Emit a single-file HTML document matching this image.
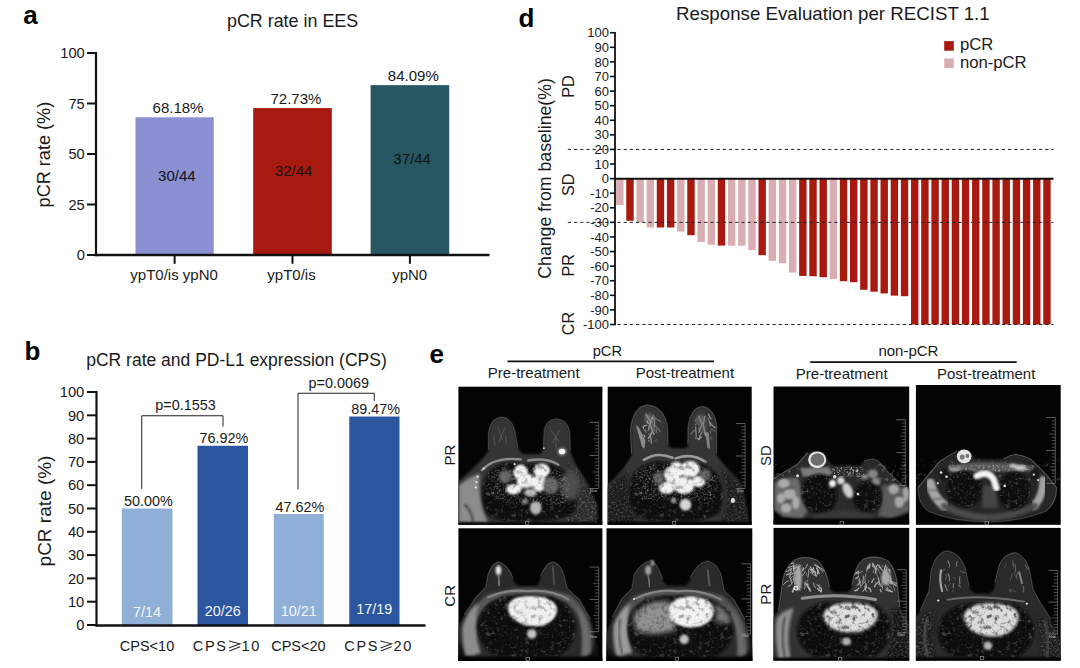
<!DOCTYPE html>
<html><head><meta charset="utf-8"><title>Figure</title>
<style>
html,body{margin:0;padding:0;background:#fff;}
body{width:1080px;height:668px;overflow:hidden;font-family:"Liberation Sans",sans-serif;}
svg{display:block;}
svg text{font-family:"Liberation Sans",sans-serif;}
</style></head><body>
<svg width="1080" height="668" viewBox="0 0 1080 668">
<rect width="1080" height="668" fill="#ffffff"/>

<defs>
<filter id="b2" x="-20%" y="-20%" width="140%" height="140%"><feGaussianBlur stdDeviation="2"/></filter>
<filter id="b4" x="-20%" y="-20%" width="140%" height="140%"><feGaussianBlur stdDeviation="4"/></filter>
<filter id="b7" x="-30%" y="-30%" width="160%" height="160%"><feGaussianBlur stdDeviation="7"/></filter>
<filter id="b12" x="-40%" y="-40%" width="180%" height="180%"><feGaussianBlur stdDeviation="12"/></filter>
<filter id="b20" x="-50%" y="-50%" width="200%" height="200%"><feGaussianBlur stdDeviation="20"/></filter>
<filter id="spk" x="0" y="0" width="100%" height="100%">
  <feTurbulence type="fractalNoise" baseFrequency="0.09" numOctaves="2" seed="3" result="n"/>
  <feColorMatrix in="n" type="matrix" values="0 0 0 0 1  0 0 0 0 1  0 0 0 0 1  2.2 2.2 0 0 -2.45" result="m"/>
  <feComposite in="m" in2="SourceGraphic" operator="in" result="c"/>
  <feGaussianBlur in="c" stdDeviation="2.6"/>
</filter>
<filter id="spk2" x="0" y="0" width="100%" height="100%">
  <feTurbulence type="fractalNoise" baseFrequency="0.05" numOctaves="3" seed="11" result="n"/>
  <feColorMatrix in="n" type="matrix" values="0 0 0 0 1  0 0 0 0 1  0 0 0 0 1  2.6 2.6 0 0 -2.85" result="m"/>
  <feComposite in="m" in2="SourceGraphic" operator="in" result="c"/>
  <feGaussianBlur in="c" stdDeviation="2.6"/>
</filter>
<filter id="spk3" x="0" y="0" width="100%" height="100%">
  <feTurbulence type="fractalNoise" baseFrequency="0.11" numOctaves="2" seed="5" result="n"/>
  <feColorMatrix in="n" type="matrix" values="0 0 0 0 1  0 0 0 0 1  0 0 0 0 1  2.4 2.4 0 0 -2.35" result="m"/>
  <feComposite in="m" in2="SourceGraphic" operator="in" result="c"/>
  <feGaussianBlur in="c" stdDeviation="2.4"/>
</filter>
<filter id="dark" x="0" y="0" width="100%" height="100%">
  <feTurbulence type="fractalNoise" baseFrequency="0.045" numOctaves="3" seed="7" result="n"/>
  <feColorMatrix in="n" type="matrix" values="0 0 0 0 0  0 0 0 0 0  0 0 0 0 0  2.6 2.6 0 0 -2.55" result="m"/>
  <feComposite in="m" in2="SourceGraphic" operator="in" result="c"/>
  <feGaussianBlur in="c" stdDeviation="3"/>
</filter>
</defs>

<g id="panel-a">
<text x="23.3" y="24" font-size="26" text-anchor="start" fill="#000" font-weight="bold" >a</text>
<text x="292.6" y="27.3" font-size="17.9" text-anchor="middle" fill="#1a1a1a" >pCR rate in EES</text>
<rect x="135.50" y="117.28" width="78.25" height="137.72" fill="#8b90d2" />
<text x="178.025" y="113.2764" font-size="15" text-anchor="middle" fill="#1a1a1a" >68.18%</text>
<text x="176.825" y="181.3" font-size="15" text-anchor="middle" fill="#111" >30/44</text>
<line x1="174.625" y1="255" x2="174.625" y2="263.8" stroke="#111" stroke-width="2" />
<rect x="253.20" y="108.09" width="78.60" height="146.91" fill="#a8190f" />
<text x="295.9" y="104.08539999999999" font-size="15" text-anchor="middle" fill="#1a1a1a" >72.73%</text>
<text x="293.7" y="175.70000000000002" font-size="15" text-anchor="middle" fill="#111" >32/44</text>
<line x1="292.5" y1="255" x2="292.5" y2="263.8" stroke="#111" stroke-width="2" />
<rect x="370.60" y="85.14" width="78.60" height="169.86" fill="#265763" />
<text x="413.29999999999995" y="81.13819999999998" font-size="15" text-anchor="middle" fill="#1a1a1a" >84.09%</text>
<text x="412.09999999999997" y="164.3" font-size="15" text-anchor="middle" fill="#111" >37/44</text>
<line x1="409.9" y1="255" x2="409.9" y2="263.8" stroke="#111" stroke-width="2" />
<line x1="96" y1="52" x2="96" y2="256.2" stroke="#111" stroke-width="2.2" />
<line x1="94.9" y1="255" x2="489.5" y2="255" stroke="#111" stroke-width="2.4" />
<line x1="87" y1="255.0" x2="96" y2="255.0" stroke="#111" stroke-width="2" />
<text x="84.8" y="260.2" font-size="14.7" text-anchor="end" fill="#1a1a1a" >0</text>
<line x1="87" y1="204.5" x2="96" y2="204.5" stroke="#111" stroke-width="2" />
<text x="84.8" y="209.7" font-size="14.7" text-anchor="end" fill="#1a1a1a" >25</text>
<line x1="87" y1="154.0" x2="96" y2="154.0" stroke="#111" stroke-width="2" />
<text x="84.8" y="159.2" font-size="14.7" text-anchor="end" fill="#1a1a1a" >50</text>
<line x1="87" y1="103.5" x2="96" y2="103.5" stroke="#111" stroke-width="2" />
<text x="84.8" y="108.7" font-size="14.7" text-anchor="end" fill="#1a1a1a" >75</text>
<line x1="87" y1="53.0" x2="96" y2="53.0" stroke="#111" stroke-width="2" />
<text x="84.8" y="58.2" font-size="14.7" text-anchor="end" fill="#1a1a1a" >100</text>
<text x="174.1" y="280" font-size="15" text-anchor="middle" fill="#1a1a1a" >ypT0/is ypN0</text>
<text x="291.5" y="280" font-size="15" text-anchor="middle" fill="#1a1a1a" >ypT0/is</text>
<text x="409.7" y="280" font-size="15" text-anchor="middle" fill="#1a1a1a" >ypN0</text>
<text x="49.7" y="154.6" font-size="18.1" text-anchor="middle" fill="#1a1a1a" transform="rotate(-90 49.7 154.6)" >pCR rate (%)</text>
</g>
<g id="panel-b">
<text x="24.5" y="360" font-size="26" text-anchor="start" fill="#000" font-weight="bold" >b</text>
<text x="236.5" y="365.7" font-size="17.5" text-anchor="middle" fill="#1a1a1a" >pCR rate and PD-L1 expression (CPS)</text>
<rect x="121.75" y="508.50" width="50.75" height="116.50" fill="#8fafd6" />
<text x="148.325" y="506.2" font-size="14.4" text-anchor="middle" fill="#1a1a1a" >50.00%</text>
<text x="147.125" y="616.7" font-size="14.4" text-anchor="middle" fill="#f4f6fb" >7/14</text>
<rect x="197.50" y="445.78" width="50.50" height="179.22" fill="#2c57a0" />
<text x="223.95" y="443.47639999999996" font-size="14.4" text-anchor="middle" fill="#1a1a1a" >76.92%</text>
<text x="222.75" y="615.7" font-size="14.4" text-anchor="middle" fill="#f4f6fb" >20/26</text>
<rect x="273.75" y="514.05" width="50.00" height="110.95" fill="#8fafd6" />
<text x="299.95" y="511.74539999999996" font-size="14.4" text-anchor="middle" fill="#1a1a1a" >47.62%</text>
<text x="298.75" y="615.7" font-size="14.4" text-anchor="middle" fill="#f4f6fb" >10/21</text>
<rect x="349.25" y="416.53" width="50.25" height="208.47" fill="#2c57a0" />
<text x="375.575" y="414.2349" font-size="14.4" text-anchor="middle" fill="#1a1a1a" >89.47%</text>
<text x="374.375" y="614.2" font-size="14.4" text-anchor="middle" fill="#f4f6fb" >17/19</text>
<line x1="96.5" y1="391" x2="96.5" y2="626.4" stroke="#111" stroke-width="2.2" />
<line x1="95.4" y1="625.4" x2="425.5" y2="625.4" stroke="#111" stroke-width="2.5" />
<line x1="87.0" y1="625.0" x2="96.5" y2="625.0" stroke="#111" stroke-width="2" />
<text x="84.3" y="630.2" font-size="14.7" text-anchor="end" fill="#1a1a1a" >0</text>
<line x1="87.0" y1="601.7" x2="96.5" y2="601.7" stroke="#111" stroke-width="2" />
<text x="84.3" y="606.9000000000001" font-size="14.7" text-anchor="end" fill="#1a1a1a" >10</text>
<line x1="87.0" y1="578.4" x2="96.5" y2="578.4" stroke="#111" stroke-width="2" />
<text x="84.3" y="583.6" font-size="14.7" text-anchor="end" fill="#1a1a1a" >20</text>
<line x1="87.0" y1="555.1" x2="96.5" y2="555.1" stroke="#111" stroke-width="2" />
<text x="84.3" y="560.3000000000001" font-size="14.7" text-anchor="end" fill="#1a1a1a" >30</text>
<line x1="87.0" y1="531.8" x2="96.5" y2="531.8" stroke="#111" stroke-width="2" />
<text x="84.3" y="537.0" font-size="14.7" text-anchor="end" fill="#1a1a1a" >40</text>
<line x1="87.0" y1="508.5" x2="96.5" y2="508.5" stroke="#111" stroke-width="2" />
<text x="84.3" y="513.7" font-size="14.7" text-anchor="end" fill="#1a1a1a" >50</text>
<line x1="87.0" y1="485.2" x2="96.5" y2="485.2" stroke="#111" stroke-width="2" />
<text x="84.3" y="490.4" font-size="14.7" text-anchor="end" fill="#1a1a1a" >60</text>
<line x1="87.0" y1="461.9" x2="96.5" y2="461.9" stroke="#111" stroke-width="2" />
<text x="84.3" y="467.09999999999997" font-size="14.7" text-anchor="end" fill="#1a1a1a" >70</text>
<line x1="87.0" y1="438.6" x2="96.5" y2="438.6" stroke="#111" stroke-width="2" />
<text x="84.3" y="443.8" font-size="14.7" text-anchor="end" fill="#1a1a1a" >80</text>
<line x1="87.0" y1="415.29999999999995" x2="96.5" y2="415.29999999999995" stroke="#111" stroke-width="2" />
<text x="84.3" y="420.49999999999994" font-size="14.7" text-anchor="end" fill="#1a1a1a" >90</text>
<line x1="87.0" y1="392.0" x2="96.5" y2="392.0" stroke="#111" stroke-width="2" />
<text x="84.3" y="397.2" font-size="14.7" text-anchor="end" fill="#1a1a1a" >100</text>
<text x="147" y="650.9" font-size="14.5" text-anchor="middle" fill="#1a1a1a" >CPS&lt;10</text>
<text x="192.8" y="650.9" font-size="14.5" text-anchor="start" fill="#1a1a1a" letter-spacing="1.7">CPS</text>
<path d="M228.9 640.9 L240.1 643.8 L228.9 648.0 M240.1 646.8 L229.2 651.0" fill="none" stroke="#2a2a2a" stroke-width="1.05" stroke-linejoin="miter"/>
<text x="241.4" y="650.9" font-size="14.5" text-anchor="start" fill="#1a1a1a" letter-spacing="1.7">10</text>
<text x="344.3" y="650.9" font-size="14.5" text-anchor="start" fill="#1a1a1a" letter-spacing="1.7">CPS</text>
<path d="M380.4 640.9 L391.6 643.8 L380.4 648.0 M391.6 646.8 L380.7 651.0" fill="none" stroke="#2a2a2a" stroke-width="1.05" stroke-linejoin="miter"/>
<text x="393.5" y="650.9" font-size="14.5" text-anchor="start" fill="#1a1a1a" letter-spacing="1.7">20</text>
<text x="298.4" y="650.9" font-size="14.5" text-anchor="middle" fill="#1a1a1a" >CPS&lt;20</text>
<path d="M141.75 489 V415.75 H223 V426.5" fill="none" stroke="#222" stroke-width="1"/>
<text x="185.5" y="410" font-size="14.4" text-anchor="middle" fill="#1a1a1a" >p=0.1553</text>
<path d="M298 489.5 V393.25 H374.25 V401" fill="none" stroke="#222" stroke-width="1"/>
<text x="338.75" y="388" font-size="14.4" text-anchor="middle" fill="#1a1a1a" >p=0.0069</text>
<text x="50.8" y="511" font-size="19" text-anchor="middle" fill="#1a1a1a" transform="rotate(-90 50.8 511)" >pCR rate (%)</text>
</g>
<g id="panel-d">
<text x="518.5" y="27" font-size="26" text-anchor="start" fill="#000" font-weight="bold" >d</text>
<text x="832.9" y="20" font-size="18.72" text-anchor="middle" fill="#1a1a1a" >Response Evaluation per RECIST 1.1</text>
<rect x="616.10" y="178.62" width="7.40" height="26.40" fill="#d9aeb2" />
<rect x="626.27" y="178.62" width="7.40" height="42.16" fill="#a8190f" />
<rect x="636.44" y="178.62" width="7.40" height="43.76" fill="#d9aeb2" />
<rect x="646.61" y="178.62" width="7.40" height="48.87" fill="#d9aeb2" />
<rect x="656.78" y="178.62" width="7.40" height="48.87" fill="#a8190f" />
<rect x="666.95" y="178.62" width="7.40" height="48.87" fill="#a8190f" />
<rect x="677.12" y="178.62" width="7.40" height="52.95" fill="#d9aeb2" />
<rect x="687.29" y="178.62" width="7.40" height="56.60" fill="#a8190f" />
<rect x="697.46" y="178.62" width="7.40" height="63.46" fill="#d9aeb2" />
<rect x="707.63" y="178.62" width="7.40" height="66.08" fill="#d9aeb2" />
<rect x="717.80" y="178.62" width="7.40" height="66.96" fill="#a8190f" />
<rect x="727.97" y="178.62" width="7.40" height="67.10" fill="#d9aeb2" />
<rect x="738.14" y="178.62" width="7.40" height="67.10" fill="#d9aeb2" />
<rect x="748.31" y="178.62" width="7.40" height="71.48" fill="#d9aeb2" />
<rect x="758.48" y="178.62" width="7.40" height="76.58" fill="#a8190f" />
<rect x="768.65" y="178.62" width="7.40" height="82.13" fill="#d9aeb2" />
<rect x="778.82" y="178.62" width="7.40" height="84.61" fill="#d9aeb2" />
<rect x="788.99" y="178.62" width="7.40" height="93.94" fill="#d9aeb2" />
<rect x="799.16" y="178.62" width="7.40" height="97.30" fill="#a8190f" />
<rect x="809.33" y="178.62" width="7.40" height="97.59" fill="#a8190f" />
<rect x="819.50" y="178.62" width="7.40" height="98.61" fill="#a8190f" />
<rect x="829.67" y="178.62" width="7.40" height="100.36" fill="#d9aeb2" />
<rect x="839.84" y="178.62" width="7.40" height="102.55" fill="#a8190f" />
<rect x="850.01" y="178.62" width="7.40" height="103.57" fill="#a8190f" />
<rect x="860.18" y="178.62" width="7.40" height="111.16" fill="#a8190f" />
<rect x="870.35" y="178.62" width="7.40" height="113.05" fill="#a8190f" />
<rect x="880.52" y="178.62" width="7.40" height="114.80" fill="#a8190f" />
<rect x="890.69" y="178.62" width="7.40" height="116.99" fill="#a8190f" />
<rect x="900.86" y="178.62" width="7.40" height="117.58" fill="#a8190f" />
<rect x="911.03" y="178.62" width="7.40" height="145.88" fill="#a8190f" />
<rect x="921.20" y="178.62" width="7.40" height="145.88" fill="#a8190f" />
<rect x="931.37" y="178.62" width="7.40" height="145.88" fill="#a8190f" />
<rect x="941.54" y="178.62" width="7.40" height="145.88" fill="#a8190f" />
<rect x="951.71" y="178.62" width="7.40" height="145.88" fill="#a8190f" />
<rect x="961.88" y="178.62" width="7.40" height="145.88" fill="#a8190f" />
<rect x="972.05" y="178.62" width="7.40" height="145.88" fill="#a8190f" />
<rect x="982.22" y="178.62" width="7.40" height="145.88" fill="#a8190f" />
<rect x="992.39" y="178.62" width="7.40" height="145.88" fill="#a8190f" />
<rect x="1002.56" y="178.62" width="7.40" height="145.88" fill="#a8190f" />
<rect x="1012.73" y="178.62" width="7.40" height="145.88" fill="#a8190f" />
<rect x="1022.90" y="178.62" width="7.40" height="145.88" fill="#a8190f" />
<rect x="1033.07" y="178.62" width="7.40" height="145.88" fill="#a8190f" />
<rect x="1043.24" y="178.62" width="7.40" height="145.88" fill="#a8190f" />
<line x1="567.8" y1="149.45" x2="1053.5" y2="149.45" stroke="#222" stroke-width="1" stroke-dasharray="3.2 3"/>
<line x1="567.8" y1="222.3875" x2="1053.5" y2="222.3875" stroke="#222" stroke-width="1" stroke-dasharray="3.2 3"/>
<line x1="617.5" y1="324.5" x2="1053.5" y2="324.5" stroke="#222" stroke-width="1" stroke-dasharray="3.2 3"/>
<line x1="615" y1="31.95" x2="615" y2="325.3" stroke="#111" stroke-width="1.8" />
<line x1="614.1" y1="178.625" x2="1053.5" y2="178.625" stroke="#111" stroke-width="2" />
<line x1="610" y1="324.5" x2="615" y2="324.5" stroke="#111" stroke-width="1.6" />
<text x="609" y="329.1" font-size="13" text-anchor="end" fill="#1a1a1a" >-100</text>
<line x1="610" y1="309.9125" x2="615" y2="309.9125" stroke="#111" stroke-width="1.6" />
<text x="609" y="314.51250000000005" font-size="13" text-anchor="end" fill="#1a1a1a" >-90</text>
<line x1="610" y1="295.325" x2="615" y2="295.325" stroke="#111" stroke-width="1.6" />
<text x="609" y="299.925" font-size="13" text-anchor="end" fill="#1a1a1a" >-80</text>
<line x1="610" y1="280.7375" x2="615" y2="280.7375" stroke="#111" stroke-width="1.6" />
<text x="609" y="285.33750000000003" font-size="13" text-anchor="end" fill="#1a1a1a" >-70</text>
<line x1="610" y1="266.15" x2="615" y2="266.15" stroke="#111" stroke-width="1.6" />
<text x="609" y="270.75" font-size="13" text-anchor="end" fill="#1a1a1a" >-60</text>
<line x1="610" y1="251.5625" x2="615" y2="251.5625" stroke="#111" stroke-width="1.6" />
<text x="609" y="256.1625" font-size="13" text-anchor="end" fill="#1a1a1a" >-50</text>
<line x1="610" y1="236.975" x2="615" y2="236.975" stroke="#111" stroke-width="1.6" />
<text x="609" y="241.575" font-size="13" text-anchor="end" fill="#1a1a1a" >-40</text>
<line x1="610" y1="222.3875" x2="615" y2="222.3875" stroke="#111" stroke-width="1.6" />
<text x="609" y="226.98749999999998" font-size="13" text-anchor="end" fill="#1a1a1a" >-30</text>
<line x1="610" y1="207.8" x2="615" y2="207.8" stroke="#111" stroke-width="1.6" />
<text x="609" y="212.4" font-size="13" text-anchor="end" fill="#1a1a1a" >-20</text>
<line x1="610" y1="193.2125" x2="615" y2="193.2125" stroke="#111" stroke-width="1.6" />
<text x="609" y="197.8125" font-size="13" text-anchor="end" fill="#1a1a1a" >-10</text>
<line x1="610" y1="178.625" x2="615" y2="178.625" stroke="#111" stroke-width="1.6" />
<text x="609" y="183.225" font-size="13" text-anchor="end" fill="#1a1a1a" >0</text>
<line x1="610" y1="164.0375" x2="615" y2="164.0375" stroke="#111" stroke-width="1.6" />
<text x="609" y="168.6375" font-size="13" text-anchor="end" fill="#1a1a1a" >10</text>
<line x1="610" y1="149.45" x2="615" y2="149.45" stroke="#111" stroke-width="1.6" />
<text x="609" y="154.04999999999998" font-size="13" text-anchor="end" fill="#1a1a1a" >20</text>
<line x1="610" y1="134.8625" x2="615" y2="134.8625" stroke="#111" stroke-width="1.6" />
<text x="609" y="139.4625" font-size="13" text-anchor="end" fill="#1a1a1a" >30</text>
<line x1="610" y1="120.275" x2="615" y2="120.275" stroke="#111" stroke-width="1.6" />
<text x="609" y="124.875" font-size="13" text-anchor="end" fill="#1a1a1a" >40</text>
<line x1="610" y1="105.6875" x2="615" y2="105.6875" stroke="#111" stroke-width="1.6" />
<text x="609" y="110.2875" font-size="13" text-anchor="end" fill="#1a1a1a" >50</text>
<line x1="610" y1="91.1" x2="615" y2="91.1" stroke="#111" stroke-width="1.6" />
<text x="609" y="95.69999999999999" font-size="13" text-anchor="end" fill="#1a1a1a" >60</text>
<line x1="610" y1="76.5125" x2="615" y2="76.5125" stroke="#111" stroke-width="1.6" />
<text x="609" y="81.1125" font-size="13" text-anchor="end" fill="#1a1a1a" >70</text>
<line x1="610" y1="61.925" x2="615" y2="61.925" stroke="#111" stroke-width="1.6" />
<text x="609" y="66.52499999999999" font-size="13" text-anchor="end" fill="#1a1a1a" >80</text>
<line x1="610" y1="47.337500000000006" x2="615" y2="47.337500000000006" stroke="#111" stroke-width="1.6" />
<text x="609" y="51.93750000000001" font-size="13" text-anchor="end" fill="#1a1a1a" >90</text>
<line x1="610" y1="32.75" x2="615" y2="32.75" stroke="#111" stroke-width="1.6" />
<text x="609" y="37.35" font-size="13" text-anchor="end" fill="#1a1a1a" >100</text>
<rect x="944.20" y="41.10" width="9.60" height="9.60" fill="#a8190f" />
<text x="959.9" y="49.6" font-size="16.7" text-anchor="start" fill="#1a1a1a" >pCR</text>
<rect x="944.20" y="58.40" width="9.60" height="9.60" fill="#d9aeb2" />
<text x="959.9" y="67.6" font-size="16.7" text-anchor="start" fill="#1a1a1a" >non-pCR</text>
<text x="574" y="86.5" font-size="16.2" text-anchor="middle" fill="#1a1a1a" transform="rotate(-90 574 86.5)" >PD</text>
<text x="574" y="184.8" font-size="16.2" text-anchor="middle" fill="#1a1a1a" transform="rotate(-90 574 184.8)" >SD</text>
<text x="574" y="265.3" font-size="16.2" text-anchor="middle" fill="#1a1a1a" transform="rotate(-90 574 265.3)" >PR</text>
<text x="574" y="323.5" font-size="16.2" text-anchor="middle" fill="#1a1a1a" transform="rotate(-90 574 323.5)" >CR</text>
<text x="550.8" y="178.4" font-size="17.7" text-anchor="middle" fill="#1a1a1a" transform="rotate(-90 550.8 178.4)" >Change from baseline(%)</text>
</g>
<g id="panel-e">
<text x="429.6" y="363.4" font-size="26" text-anchor="start" fill="#000" font-weight="bold" >e</text>
<text x="607.4" y="355.7" font-size="14.7" text-anchor="middle" fill="#1a1a1a" >pCR</text>
<line x1="507.5" y1="361.3" x2="714" y2="361.3" stroke="#111" stroke-width="1.8" />
<text x="533.7" y="378.4" font-size="15" text-anchor="middle" fill="#1a1a1a" >Pre-treatment</text>
<text x="684.9" y="378.4" font-size="15" text-anchor="middle" fill="#1a1a1a" >Post-treatment</text>
<text x="908.4" y="356" font-size="15" text-anchor="middle" fill="#1a1a1a" >non-pCR</text>
<line x1="810.2" y1="362.1" x2="1016.7" y2="362.1" stroke="#111" stroke-width="1.8" />
<text x="841.7" y="379.2" font-size="15" text-anchor="middle" fill="#1a1a1a" >Pre-treatment</text>
<text x="986.2" y="379.2" font-size="15" text-anchor="middle" fill="#1a1a1a" >Post-treatment</text>
<text x="455.4" y="455" font-size="15" text-anchor="middle" fill="#1a1a1a" transform="rotate(-90 455.4 455)" >PR</text>
<text x="455.4" y="595.8" font-size="15" text-anchor="middle" fill="#1a1a1a" transform="rotate(-90 455.4 595.8)" >CR</text>
<text x="770.6" y="455.6" font-size="15" text-anchor="middle" fill="#1a1a1a" transform="rotate(-90 770.6 455.6)" >SD</text>
<text x="770.6" y="594.2" font-size="15" text-anchor="middle" fill="#1a1a1a" transform="rotate(-90 770.6 594.2)" >PR</text>
<g id="mri1"><clipPath id="clip1"><rect x="458.40" y="386.70" width="144.00" height="138.00"/></clipPath><rect x="458.40" y="386.70" width="144.00" height="138.00" fill="#040404"/><g clip-path="url(#clip1)"><g transform="translate(456,384) scale(0.215517)"><path filter="url(#b4)" fill="#363636" d="M0 462 L70 400 L120 350 L150 312 L152 230 Q160 160 212 155 Q265 160 275 235 L286 292 Q296 324 325 326 L385 326 Q404 322 407 290 L410 215 Q420 165 466 162 Q520 168 527 230 L529 305 Q540 355 590 430 Q640 520 655 660 L0 660 Z" /><path filter="url(#b2)" fill="none" stroke="#4a4a4a" stroke-width="5" stroke-linecap="round" d="M152 305 L152 230 Q160 160 212 155 Q265 160 275 235 L286 292"/><path filter="url(#b2)" fill="none" stroke="#4a4a4a" stroke-width="5" stroke-linecap="round" d="M407 290 L410 215 Q420 165 466 162 Q520 168 527 230 L529 305"/><path filter="url(#b7)" fill="#2a2a2a" d="M520 360 L560 390 L610 460 L655 560 L655 660 L500 660 L540 520 Z" /><path filter="url(#spk3)" fill="#6a6a6a" opacity="0.248" d="M520 360 L560 390 L610 460 L655 560 L655 660 L500 660 L540 520 Z" /><path filter="url(#b7)" fill="#8c8c8c" d="M14 470 Q60 430 112 415 Q100 500 130 600 L150 645 L14 645 Z" /><path filter="url(#b4)" fill="none" stroke="#3a3a3a" stroke-width="8" stroke-linecap="round" d="M40 560 Q70 580 80 640"/><path filter="url(#b2)" fill="none" stroke="#8d8d8d" stroke-width="11" stroke-linecap="round" d="M120 400 Q180 335 300 350"/><path filter="url(#b2)" fill="none" stroke="#8d8d8d" stroke-width="11" stroke-linecap="round" d="M335 355 Q420 340 475 375"/><path filter="url(#b4)" fill="#0b0b0b" d="M125 470 Q140 380 240 365 Q330 372 350 372 Q460 362 530 420 Q585 500 545 600 Q480 640 330 636 Q190 640 150 610 Q110 560 125 470 Z" /><path filter="url(#spk)" fill="#fff" opacity="0.15" d="M125 470 Q140 380 240 365 Q330 372 350 372 Q460 362 530 420 Q585 500 545 600 Q480 640 330 636 Q190 640 150 610 Q110 560 125 470 Z" /><path filter="url(#spk2)" fill="#8a8a8a" opacity="0.2" d="M125 470 Q140 380 240 365 Q330 372 350 372 Q460 362 530 420 Q585 500 545 600 Q480 640 330 636 Q190 640 150 610 Q110 560 125 470 Z" /><ellipse filter="url(#b12)" cx="530" cy="470" rx="45" ry="70" fill="#4e4e4e"/><path filter="url(#spk3)" fill="#8a8a8a" opacity="0.3" d="M150 420 Q200 370 330 380 Q470 370 520 440 Q540 520 500 560 Q400 560 330 560 Q200 560 170 520 Q140 480 150 420 Z" /><g filter="url(#b4)" fill="#f2f2f2"><ellipse cx="300" cy="412" rx="34" ry="38"/><ellipse cx="398" cy="402" rx="38" ry="33"/><ellipse cx="268" cy="488" rx="36" ry="24"/><ellipse cx="330" cy="452" rx="48" ry="34"/><ellipse cx="385" cy="462" rx="36" ry="38"/></g><ellipse filter="url(#b4)" cx="345" cy="505" rx="30" ry="18" fill="#bbb"/><g filter="url(#b7)" fill="#6a6a6a"><ellipse cx="440" cy="470" rx="36" ry="40"/><ellipse cx="230" cy="430" rx="30" ry="30"/></g><path filter="url(#dark)" fill="#000" opacity="0.3" d="M230 370 H450 V530 H230 Z" /><ellipse filter="url(#b4)" cx="370" cy="575" rx="27" ry="30" fill="#b5b5b5"/><ellipse filter="url(#b4)" cx="318" cy="545" rx="12" ry="12" fill="#8a8a8a"/><ellipse filter="url(#b4)" cx="492" cy="313" rx="22" ry="20" fill="#7a7a7a"/><ellipse filter="url(#b2)" cx="492" cy="313" rx="15" ry="13" fill="#f4f4f4"/><g filter="url(#b2)" stroke="#5c5c5c" stroke-width="4" fill="none"><path d="M195 200 L215 260 M225 205 L200 270 M175 240 L180 285 M230 240 L232 280"/><path d="M440 215 L480 270 M480 215 L445 275 M462 240 L465 300"/></g><g fill="#e8e8e8" filter="url(#b2)"><circle cx="100" cy="430" r="5"/><circle cx="95" cy="455" r="5"/><circle cx="92" cy="480" r="5"/><circle cx="128" cy="392" r="5"/><circle cx="272" cy="372" r="5"/><circle cx="408" cy="298" r="4"/></g><rect filter="url(#b4)" x="-20" y="642" width="740" height="60" fill="#040404"/><g stroke="#8a8a8a" stroke-width="2.6" fill="none" filter="url(#b2)"><line x1="662" y1="178" x2="662" y2="485"/><line x1="620" y1="178.0" x2="662" y2="178.0" stroke-width="3.2"/><line x1="645" y1="193.3" x2="662" y2="193.3" stroke-width="2.4"/><line x1="645" y1="208.7" x2="662" y2="208.7" stroke-width="2.4"/><line x1="645" y1="224.1" x2="662" y2="224.1" stroke-width="2.4"/><line x1="645" y1="239.4" x2="662" y2="239.4" stroke-width="2.4"/><line x1="636" y1="254.8" x2="662" y2="254.8" stroke-width="2.4"/><line x1="645" y1="270.1" x2="662" y2="270.1" stroke-width="2.4"/><line x1="645" y1="285.4" x2="662" y2="285.4" stroke-width="2.4"/><line x1="645" y1="300.8" x2="662" y2="300.8" stroke-width="2.4"/><line x1="645" y1="316.1" x2="662" y2="316.1" stroke-width="2.4"/><line x1="620" y1="331.5" x2="662" y2="331.5" stroke-width="3.2"/><line x1="645" y1="346.9" x2="662" y2="346.9" stroke-width="2.4"/><line x1="645" y1="362.2" x2="662" y2="362.2" stroke-width="2.4"/><line x1="645" y1="377.6" x2="662" y2="377.6" stroke-width="2.4"/><line x1="645" y1="392.9" x2="662" y2="392.9" stroke-width="2.4"/><line x1="636" y1="408.2" x2="662" y2="408.2" stroke-width="2.4"/><line x1="645" y1="423.6" x2="662" y2="423.6" stroke-width="2.4"/><line x1="645" y1="438.9" x2="662" y2="438.9" stroke-width="2.4"/><line x1="645" y1="454.3" x2="662" y2="454.3" stroke-width="2.4"/><line x1="645" y1="469.6" x2="662" y2="469.6" stroke-width="2.4"/><line x1="620" y1="485.0" x2="662" y2="485.0" stroke-width="3.2"/></g><text x="622" y="500" font-size="13" fill="#a8a8a8" font-weight="bold" filter="url(#b2)">10cm</text><rect x="322" y="638" width="16" height="14" fill="none" stroke="#999" stroke-width="3" filter="url(#b2)"/></g></g></g>
<g id="mri2"><clipPath id="clip2"><rect x="607.70" y="386.70" width="144.00" height="138.00"/></clipPath><rect x="607.70" y="386.70" width="144.00" height="138.00" fill="#040404"/><g clip-path="url(#clip2)"><g transform="translate(604,384) scale(0.215517)"><path filter="url(#b4)" fill="#363636" d="M0 480 L40 445 L95 385 L130 330 L124 215 Q132 110 200 98 Q275 105 293 195 L296 278 Q300 297 325 298 L375 298 Q390 296 390 275 L391 195 Q405 112 456 105 Q515 115 522 200 L521 330 L565 385 L625 445 Q660 520 670 660 L0 660 Z" /><path filter="url(#b2)" fill="none" stroke="#4c4c4c" stroke-width="5" stroke-linecap="round" d="M128 320 L124 215 Q132 110 200 98 Q275 105 293 195 L296 278"/><path filter="url(#b2)" fill="none" stroke="#4c4c4c" stroke-width="5" stroke-linecap="round" d="M390 275 L391 195 Q405 112 456 105 Q515 115 522 200 L521 320"/><path filter="url(#b7)" fill="#1c1c1c" d="M10 490 L60 440 L115 400 Q95 520 160 645 L10 645 Z" /><path filter="url(#spk3)" fill="#6a6a6a" opacity="0.203" d="M10 490 L60 440 L115 400 Q95 520 160 645 L10 645 Z" /><path filter="url(#b7)" fill="#1c1c1c" d="M535 385 L590 430 L640 470 L670 645 L540 645 Q600 520 535 385 Z" /><path filter="url(#spk3)" fill="#6a6a6a" opacity="0.203" d="M535 385 L590 430 L640 470 L670 645 L540 645 Q600 520 535 385 Z" /><path filter="url(#b2)" fill="none" stroke="#9a9a9a" stroke-width="12" stroke-linecap="round" d="M185 352 Q245 312 318 342"/><path filter="url(#b2)" fill="none" stroke="#9a9a9a" stroke-width="12" stroke-linecap="round" d="M332 345 Q410 318 472 362"/><path filter="url(#b4)" fill="#0b0b0b" d="M120 460 Q140 372 250 358 Q330 366 350 366 Q450 352 520 410 Q575 500 535 600 Q470 640 335 636 Q190 640 150 610 Q105 550 120 460 Z" /><path filter="url(#spk)" fill="#fff" opacity="0.15" d="M120 460 Q140 372 250 358 Q330 366 350 366 Q450 352 520 410 Q575 500 535 600 Q470 640 335 636 Q190 640 150 610 Q105 550 120 460 Z" /><path filter="url(#spk2)" fill="#8a8a8a" opacity="0.2" d="M120 460 Q140 372 250 358 Q330 366 350 366 Q450 352 520 410 Q575 500 535 600 Q470 640 335 636 Q190 640 150 610 Q105 550 120 460 Z" /><path filter="url(#spk3)" fill="#8a8a8a" opacity="0.35" d="M150 400 Q250 360 350 370 Q470 360 520 430 Q540 500 500 540 L180 540 Q130 480 150 400 Z" /><g filter="url(#b4)" fill="#f2f2f2"><ellipse cx="400" cy="395" rx="46" ry="38"/><ellipse cx="322" cy="420" rx="46" ry="40"/><ellipse cx="292" cy="482" rx="38" ry="28"/><ellipse cx="372" cy="470" rx="48" ry="40"/><ellipse cx="440" cy="452" rx="30" ry="26"/><ellipse cx="335" cy="375" rx="25" ry="14"/></g><g filter="url(#b7)" fill="#6a6a6a"><ellipse cx="255" cy="440" rx="25" ry="30"/><ellipse cx="470" cy="420" rx="25" ry="25"/></g><path filter="url(#dark)" fill="#000" opacity="0.3" d="M240 360 H480 V525 H240 Z" /><ellipse filter="url(#b4)" cx="378" cy="560" rx="27" ry="28" fill="#d5d5d5"/><ellipse filter="url(#b4)" cx="322" cy="540" rx="12" ry="12" fill="#999"/><ellipse filter="url(#b2)" cx="598" cy="540" rx="10" ry="12" fill="#ddd"/><g filter="url(#b7)" fill="#5e5e5e"><ellipse cx="207" cy="158" rx="20" ry="24"/><ellipse cx="228" cy="205" rx="12" ry="28"/></g><clipPath id="sil2"><path d="M0 480 L40 445 L95 385 L130 330 L124 215 Q132 110 200 98 Q275 105 293 195 L296 278 Q300 297 325 298 L375 298 Q390 296 390 275 L391 195 Q405 112 456 105 Q515 115 522 200 L521 330 L565 385 L625 445 Q660 520 670 660 L0 660 Z"/></clipPath><g clip-path="url(#sil2)"><g filter="url(#b2)" stroke="#b4b4b4" stroke-linecap="round" fill="none" opacity="0.85"><path d="M223 156 Q219 172 223 179" stroke-width="5.2"/><path d="M208 200 Q208 206 213 209" stroke-width="2.3"/><path d="M184 236 Q193 245 187 246" stroke-width="5.5"/><path d="M166 213 Q159 232 165 237" stroke-width="3.5"/><path d="M233 154 Q247 166 263 175" stroke-width="3.4"/><path d="M180 196 Q184 216 196 226" stroke-width="2.8"/><path d="M244 258 Q242 266 237 266" stroke-width="2.5"/><path d="M237 195 Q256 207 262 222" stroke-width="3.5"/><path d="M198 192 Q182 192 182 205" stroke-width="4.9"/><path d="M208 261 Q212 259 208 266" stroke-width="4.4"/><path d="M219 205 Q221 218 227 218" stroke-width="3.4"/><path d="M191 211 Q198 220 196 221" stroke-width="3.5"/><path d="M224 222 Q213 245 205 253" stroke-width="5.8"/><path d="M243 210 Q241 226 248 229" stroke-width="2.6"/><path d="M231 144 Q235 148 229 167" stroke-width="3.0"/><path d="M201 172 Q201 183 206 182" stroke-width="5.9"/><path d="M206 229 Q213 250 220 264" stroke-width="2.1"/><path d="M236 162 Q236 178 232 196" stroke-width="4.3"/></g><g filter="url(#b2)" stroke="#a8a8a8" stroke-linecap="round" fill="none" opacity="0.85"><path d="M423 250 Q428 248 443 258" stroke-width="4.6"/><path d="M490 178 Q500 192 516 203" stroke-width="5.7"/><path d="M493 218 Q499 225 493 229" stroke-width="3.2"/><path d="M484 160 Q493 185 493 195" stroke-width="4.3"/><path d="M465 219 Q470 240 482 252" stroke-width="5.8"/><path d="M423 214 Q408 217 403 234" stroke-width="4.1"/><path d="M485 141 Q489 154 497 162" stroke-width="5.7"/><path d="M444 173 Q443 183 439 191" stroke-width="3.7"/><path d="M458 216 Q467 230 481 246" stroke-width="3.6"/><path d="M496 246 Q492 258 501 258" stroke-width="2.7"/><path d="M441 201 Q438 204 444 221" stroke-width="4.1"/><path d="M468 231 Q469 241 484 255" stroke-width="5.3"/><path d="M451 245 Q445 253 438 258" stroke-width="6.0"/><path d="M453 224 Q445 242 442 250" stroke-width="5.3"/><path d="M495 209 Q508 212 516 220" stroke-width="2.7"/><path d="M449 218 Q458 221 453 229" stroke-width="2.5"/><path d="M434 163 Q425 161 423 172" stroke-width="3.9"/><path d="M442 162 Q438 170 423 192" stroke-width="3.5"/></g></g><path filter="url(#b2)" fill="none" stroke="#8e8e8e" stroke-width="6" stroke-linecap="round" d="M195 140 L215 175 L205 215 M225 150 L215 190 L232 235 M215 230 L220 275"/><path filter="url(#b2)" fill="#8c8c8c" d="M148 190 L160 200 L192 262 L188 300 L176 290 Z" /><g filter="url(#b7)" fill="#5a5a5a"><ellipse cx="450" cy="165" rx="24" ry="24"/><ellipse cx="462" cy="205" rx="12" ry="24"/></g><path filter="url(#b2)" fill="none" stroke="#848484" stroke-width="6" stroke-linecap="round" d="M440 150 L455 185 L440 225 M468 150 L460 190 L470 230 M425 200 L428 245"/><path filter="url(#b2)" fill="#848484" d="M470 222 L486 226 L492 300 L480 296 Z" /><rect filter="url(#b4)" x="-20" y="639" width="740" height="60" fill="#040404"/><g stroke="#8a8a8a" stroke-width="2.6" fill="none" filter="url(#b2)"><line x1="655" y1="183" x2="655" y2="485"/><line x1="613" y1="183.0" x2="655" y2="183.0" stroke-width="3.2"/><line x1="638" y1="198.1" x2="655" y2="198.1" stroke-width="2.4"/><line x1="638" y1="213.2" x2="655" y2="213.2" stroke-width="2.4"/><line x1="638" y1="228.3" x2="655" y2="228.3" stroke-width="2.4"/><line x1="638" y1="243.4" x2="655" y2="243.4" stroke-width="2.4"/><line x1="629" y1="258.5" x2="655" y2="258.5" stroke-width="2.4"/><line x1="638" y1="273.6" x2="655" y2="273.6" stroke-width="2.4"/><line x1="638" y1="288.7" x2="655" y2="288.7" stroke-width="2.4"/><line x1="638" y1="303.8" x2="655" y2="303.8" stroke-width="2.4"/><line x1="638" y1="318.9" x2="655" y2="318.9" stroke-width="2.4"/><line x1="613" y1="334.0" x2="655" y2="334.0" stroke-width="3.2"/><line x1="638" y1="349.1" x2="655" y2="349.1" stroke-width="2.4"/><line x1="638" y1="364.2" x2="655" y2="364.2" stroke-width="2.4"/><line x1="638" y1="379.3" x2="655" y2="379.3" stroke-width="2.4"/><line x1="638" y1="394.4" x2="655" y2="394.4" stroke-width="2.4"/><line x1="629" y1="409.5" x2="655" y2="409.5" stroke-width="2.4"/><line x1="638" y1="424.6" x2="655" y2="424.6" stroke-width="2.4"/><line x1="638" y1="439.7" x2="655" y2="439.7" stroke-width="2.4"/><line x1="638" y1="454.8" x2="655" y2="454.8" stroke-width="2.4"/><line x1="638" y1="469.9" x2="655" y2="469.9" stroke-width="2.4"/><line x1="613" y1="485.0" x2="655" y2="485.0" stroke-width="3.2"/></g><text x="615" y="500" font-size="13" fill="#a8a8a8" font-weight="bold" filter="url(#b2)">10cm</text><rect x="317" y="638" width="16" height="14" fill="none" stroke="#999" stroke-width="3" filter="url(#b2)"/></g></g></g>
<g id="mri3"><clipPath id="clip3"><rect x="458.40" y="528.30" width="144.00" height="132.70"/></clipPath><rect x="458.40" y="528.30" width="144.00" height="132.70" fill="#040404"/><g clip-path="url(#clip3)"><g transform="translate(456,524) scale(0.215517)"><path filter="url(#b4)" fill="#2c2c2c" d="M0 500 L40 420 L90 345 L140 292 L150 232 Q170 180 200 177 Q245 195 262 250 Q272 284 295 288 L370 288 Q388 280 395 238 Q418 180 452 177 Q492 190 502 245 L516 300 L572 352 L622 440 Q650 520 660 660 L0 660 Z" /><path filter="url(#b2)" fill="none" stroke="#474747" stroke-width="5" stroke-linecap="round" d="M40 420 L90 345 L140 292 L150 232 Q170 180 200 177 Q245 195 262 250"/><path filter="url(#b2)" fill="none" stroke="#474747" stroke-width="5" stroke-linecap="round" d="M395 238 Q418 180 452 177 Q492 190 502 245 L516 300 L572 352 L622 440"/><path filter="url(#b7)" fill="none" stroke="#585858" stroke-width="36" stroke-linecap="round" d="M70 600 Q30 450 150 345 Q330 290 520 345 Q640 450 600 600"/><path filter="url(#b7)" fill="#0c0c0c" d="M0 520 Q20 600 90 625 L0 660 Z" /><path filter="url(#b7)" fill="#0c0c0c" d="M660 540 Q640 600 590 625 L660 660 Z" /><path filter="url(#b7)" fill="#8c8c8c" d="M30 480 Q50 400 105 365 Q75 480 115 600 L45 615 Q25 540 30 480 Z" /><path filter="url(#b7)" fill="#6c6c6c" d="M565 385 Q625 450 625 600 L585 615 Q590 480 565 385 Z" /><path filter="url(#b2)" fill="none" stroke="#858585" stroke-width="10" stroke-linecap="round" d="M150 340 Q240 300 330 312 Q440 300 520 350"/><path filter="url(#b4)" fill="#0b0b0b" d="M100 470 Q115 370 220 335 Q330 318 440 335 Q540 370 555 470 Q560 560 480 610 Q330 625 180 610 Q100 560 100 470 Z" /><path filter="url(#spk)" fill="#fff" opacity="0.15" d="M100 470 Q115 370 220 335 Q330 318 440 335 Q540 370 555 470 Q560 560 480 610 Q330 625 180 610 Q100 560 100 470 Z" /><path filter="url(#spk2)" fill="#8a8a8a" opacity="0.2" d="M100 470 Q115 370 220 335 Q330 318 440 335 Q540 370 555 470 Q560 560 480 610 Q330 625 180 610 Q100 560 100 470 Z" /><path filter="url(#b4)" fill="#f0f0f0" d="M240 385 Q250 335 330 335 Q440 330 468 385 Q475 440 410 470 Q330 485 280 450 Q240 425 240 385 Z" /><path filter="url(#dark)" fill="#000" opacity="0.25" d="M240 335 H470 V480 H240 Z" /><ellipse filter="url(#b4)" cx="352" cy="510" rx="22" ry="22" fill="#c4c4c4"/><path filter="url(#b2)" fill="none" stroke="#ddd" stroke-width="7" stroke-linecap="round" d="M300 568 H370"/><path filter="url(#b2)" fill="none" stroke="#555" stroke-width="4" stroke-linecap="round" d="M130 490 H300"/><ellipse filter="url(#b4)" cx="197" cy="215" rx="13" ry="24" fill="#e6e6e6"/><path filter="url(#b2)" fill="none" stroke="#7a7a7a" stroke-width="8" stroke-linecap="round" d="M197 235 L200 285"/><path filter="url(#b2)" fill="none" stroke="#505050" stroke-width="8" stroke-linecap="round" d="M450 200 L455 280"/><rect filter="url(#b4)" x="-20" y="616" width="740" height="60" fill="#040404"/><g stroke="#8a8a8a" stroke-width="2.6" fill="none" filter="url(#b2)"><line x1="662" y1="200" x2="662" y2="500"/><line x1="620" y1="200.0" x2="662" y2="200.0" stroke-width="3.2"/><line x1="645" y1="215.0" x2="662" y2="215.0" stroke-width="2.4"/><line x1="645" y1="230.0" x2="662" y2="230.0" stroke-width="2.4"/><line x1="645" y1="245.0" x2="662" y2="245.0" stroke-width="2.4"/><line x1="645" y1="260.0" x2="662" y2="260.0" stroke-width="2.4"/><line x1="636" y1="275.0" x2="662" y2="275.0" stroke-width="2.4"/><line x1="645" y1="290.0" x2="662" y2="290.0" stroke-width="2.4"/><line x1="645" y1="305.0" x2="662" y2="305.0" stroke-width="2.4"/><line x1="645" y1="320.0" x2="662" y2="320.0" stroke-width="2.4"/><line x1="645" y1="335.0" x2="662" y2="335.0" stroke-width="2.4"/><line x1="620" y1="350.0" x2="662" y2="350.0" stroke-width="3.2"/><line x1="645" y1="365.0" x2="662" y2="365.0" stroke-width="2.4"/><line x1="645" y1="380.0" x2="662" y2="380.0" stroke-width="2.4"/><line x1="645" y1="395.0" x2="662" y2="395.0" stroke-width="2.4"/><line x1="645" y1="410.0" x2="662" y2="410.0" stroke-width="2.4"/><line x1="636" y1="425.0" x2="662" y2="425.0" stroke-width="2.4"/><line x1="645" y1="440.0" x2="662" y2="440.0" stroke-width="2.4"/><line x1="645" y1="455.0" x2="662" y2="455.0" stroke-width="2.4"/><line x1="645" y1="470.0" x2="662" y2="470.0" stroke-width="2.4"/><line x1="645" y1="485.0" x2="662" y2="485.0" stroke-width="2.4"/><line x1="620" y1="500.0" x2="662" y2="500.0" stroke-width="3.2"/></g><text x="622" y="528" font-size="13" fill="#a8a8a8" font-weight="bold" filter="url(#b2)">10cm</text><rect x="325" y="620" width="16" height="14" fill="none" stroke="#999" stroke-width="3" filter="url(#b2)"/></g></g></g>
<g id="mri4"><clipPath id="clip4"><rect x="606.50" y="528.30" width="145.80" height="132.70"/></clipPath><rect x="606.50" y="528.30" width="145.80" height="132.70" fill="#040404"/><g clip-path="url(#clip4)"><g transform="translate(604,524) scale(0.215517)"><path filter="url(#b4)" fill="#2c2c2c" d="M0 540 L40 430 L82 350 L130 300 L142 232 Q170 182 222 168 Q252 195 270 255 Q280 284 305 286 L375 286 Q395 280 402 248 Q430 185 482 172 Q535 190 547 255 L557 310 L602 352 L652 440 Q685 520 690 660 L0 660 Z" /><path filter="url(#b2)" fill="none" stroke="#474747" stroke-width="5" stroke-linecap="round" d="M40 430 L82 350 L130 300 L142 232 Q170 182 222 168 Q252 195 270 255"/><path filter="url(#b2)" fill="none" stroke="#474747" stroke-width="5" stroke-linecap="round" d="M402 248 Q430 185 482 172 Q535 190 547 255 L557 310 L602 352 L652 440"/><path filter="url(#b7)" fill="none" stroke="#545454" stroke-width="36" stroke-linecap="round" d="M75 610 Q30 460 150 350 Q340 295 545 350 Q670 460 640 610"/><path filter="url(#b7)" fill="#0c0c0c" d="M0 540 Q20 600 80 628 L0 660 Z" /><path filter="url(#b7)" fill="#0c0c0c" d="M700 560 Q670 610 620 628 L700 660 Z" /><path filter="url(#b7)" fill="#9a9a9a" d="M45 470 Q70 400 120 370 Q95 480 130 600 L60 610 Q40 540 45 470 Z" /><path filter="url(#b4)" fill="none" stroke="#333" stroke-width="6" stroke-linecap="round" d="M75 440 Q60 520 85 600"/><path filter="url(#b7)" fill="#6a6a6a" d="M590 400 Q640 450 660 600 L620 610 Q620 480 590 400 Z" /><path filter="url(#b2)" fill="none" stroke="#858585" stroke-width="10" stroke-linecap="round" d="M150 345 Q240 300 340 312 Q450 300 540 350"/><path filter="url(#b4)" fill="#0b0b0b" d="M110 480 Q120 380 220 340 Q340 320 470 340 Q585 380 600 480 Q600 570 520 612 Q340 630 190 612 Q105 570 110 480 Z" /><path filter="url(#spk)" fill="#fff" opacity="0.15" d="M110 480 Q120 380 220 340 Q340 320 470 340 Q585 380 600 480 Q600 570 520 612 Q340 630 190 612 Q105 570 110 480 Z" /><path filter="url(#spk2)" fill="#8a8a8a" opacity="0.2" d="M110 480 Q120 380 220 340 Q340 320 470 340 Q585 380 600 480 Q600 570 520 612 Q340 630 190 612 Q105 570 110 480 Z" /><path filter="url(#b12)" fill="#929292" d="M135 430 Q185 350 305 358 L335 490 Q240 525 150 495 Z" /><path filter="url(#b4)" fill="#f2f2f2" d="M300 395 Q310 340 400 335 Q500 340 512 400 Q510 450 450 475 Q380 490 330 460 Q298 440 300 395 Z" /><path filter="url(#b12)" fill="#777" d="M515 370 Q580 395 590 460 L520 460 Z" /><path filter="url(#dark)" fill="#000" opacity="0.3" d="M140 335 H590 V500 H140 Z" /><ellipse filter="url(#b4)" cx="372" cy="535" rx="22" ry="22" fill="#c0c0c0"/><path filter="url(#b2)" fill="none" stroke="#ccc" stroke-width="7" stroke-linecap="round" d="M310 580 H375"/><g filter="url(#b4)" fill="#a5a5a5"><ellipse cx="205" cy="215" rx="14" ry="22"/><ellipse cx="225" cy="182" rx="7" ry="14"/></g><path filter="url(#b2)" fill="none" stroke="#6e6e6e" stroke-width="8" stroke-linecap="round" d="M205 235 L212 290"/><path filter="url(#b2)" fill="none" stroke="#565656" stroke-width="10" stroke-linecap="round" d="M480 215 L490 285"/><ellipse filter="url(#b2)" cx="140" cy="348" rx="5" ry="5" fill="#eee"/><rect filter="url(#b4)" x="-20" y="617" width="740" height="60" fill="#040404"/><g stroke="#8a8a8a" stroke-width="2.6" fill="none" filter="url(#b2)"><line x1="680" y1="185" x2="680" y2="510"/><line x1="638" y1="185.0" x2="680" y2="185.0" stroke-width="3.2"/><line x1="663" y1="201.2" x2="680" y2="201.2" stroke-width="2.4"/><line x1="663" y1="217.5" x2="680" y2="217.5" stroke-width="2.4"/><line x1="663" y1="233.8" x2="680" y2="233.8" stroke-width="2.4"/><line x1="663" y1="250.0" x2="680" y2="250.0" stroke-width="2.4"/><line x1="654" y1="266.2" x2="680" y2="266.2" stroke-width="2.4"/><line x1="663" y1="282.5" x2="680" y2="282.5" stroke-width="2.4"/><line x1="663" y1="298.8" x2="680" y2="298.8" stroke-width="2.4"/><line x1="663" y1="315.0" x2="680" y2="315.0" stroke-width="2.4"/><line x1="663" y1="331.2" x2="680" y2="331.2" stroke-width="2.4"/><line x1="638" y1="347.5" x2="680" y2="347.5" stroke-width="3.2"/><line x1="663" y1="363.8" x2="680" y2="363.8" stroke-width="2.4"/><line x1="663" y1="380.0" x2="680" y2="380.0" stroke-width="2.4"/><line x1="663" y1="396.2" x2="680" y2="396.2" stroke-width="2.4"/><line x1="663" y1="412.5" x2="680" y2="412.5" stroke-width="2.4"/><line x1="654" y1="428.8" x2="680" y2="428.8" stroke-width="2.4"/><line x1="663" y1="445.0" x2="680" y2="445.0" stroke-width="2.4"/><line x1="663" y1="461.2" x2="680" y2="461.2" stroke-width="2.4"/><line x1="663" y1="477.5" x2="680" y2="477.5" stroke-width="2.4"/><line x1="663" y1="493.8" x2="680" y2="493.8" stroke-width="2.4"/><line x1="638" y1="510.0" x2="680" y2="510.0" stroke-width="3.2"/></g><text x="640" y="525" font-size="13" fill="#a8a8a8" font-weight="bold" filter="url(#b2)">10cm</text><rect x="330" y="618" width="16" height="14" fill="none" stroke="#999" stroke-width="3" filter="url(#b2)"/></g></g></g>
<g id="mri5"><clipPath id="clip5"><rect x="773.50" y="386.50" width="135.70" height="138.00"/></clipPath><rect x="773.50" y="386.50" width="135.70" height="138.00" fill="#040404"/><g clip-path="url(#clip5)"><g transform="translate(770,382) scale(0.215517)"><path filter="url(#b4)" fill="#2b2b2b" d="M0 462 L23 445 L129 381 L174 329 Q213 312 255 335 L272 368 L290 387 L419 387 L438 368 Q470 352 500 366 L516 381 L554 426 L619 484 L650 500 L650 600 Q600 632 520 634 L120 634 Q40 625 0 580 Z" /><path filter="url(#b2)" fill="none" stroke="#5a5a5a" stroke-width="5" stroke-linecap="round" d="M23 445 L129 381 L174 329"/><path filter="url(#b2)" fill="none" stroke="#4a4a4a" stroke-width="5" stroke-linecap="round" d="M438 368 Q470 352 500 366 L516 381 L554 426 L619 484"/><path filter="url(#spk2)" fill="#777" opacity="0.25" d="M16 380 H646 V460 H16 Z" /><path filter="url(#b7)" fill="#6a6a6a" d="M20 470 Q60 440 130 445 Q150 520 175 600 L150 632 L60 625 L20 590 Z" /><path filter="url(#b7)" fill="#5c5c5c" d="M520 480 Q580 470 646 500 L646 600 L560 632 L500 620 Q530 560 520 480 Z" /><g filter="url(#b4)" fill="#ababab"><ellipse cx="64" cy="471" rx="27" ry="22"/><ellipse cx="92" cy="518" rx="28" ry="26"/><ellipse cx="52" cy="540" rx="20" ry="24"/><ellipse cx="75" cy="585" rx="24" ry="22"/><ellipse cx="120" cy="560" rx="18" ry="30"/></g><g filter="url(#b4)" fill="#a6a6a6"><ellipse cx="574" cy="497" rx="24" ry="24"/><ellipse cx="600" cy="555" rx="22" ry="28"/><ellipse cx="630" cy="520" rx="14" ry="36"/></g><path filter="url(#b4)" fill="none" stroke="#3a3a3a" stroke-width="5" stroke-linecap="round" d="M70 495 L110 490 M60 560 L100 550 M585 525 L620 530"/><path filter="url(#b4)" fill="#7a7a7a" d="M142 400 L271 394 L290 420 L271 440 L150 438 Z" /><g filter="url(#b4)" fill="#858585"><ellipse cx="477" cy="426" rx="24" ry="20"/><ellipse cx="492" cy="462" rx="20" ry="18"/><ellipse cx="440" cy="440" rx="16" ry="12"/></g><path filter="url(#spk3)" fill="#7a7a7a" opacity="0.6" d="M290 395 L430 395 L440 440 L290 440 Z" /><path filter="url(#b4)" fill="#0b0b0b" d="M145 520 Q150 432 230 426 Q300 430 312 500 Q318 590 250 612 Q150 610 145 520 Z" /><path filter="url(#spk)" fill="#fff" opacity="0.24" d="M145 520 Q150 432 230 426 Q300 430 312 500 Q318 590 250 612 Q150 610 145 520 Z" /><path filter="url(#spk2)" fill="#8a8a8a" opacity="0.2" d="M145 520 Q150 432 230 426 Q300 430 312 500 Q318 590 250 612 Q150 610 145 520 Z" /><path filter="url(#b4)" fill="#0b0b0b" d="M385 540 Q390 468 450 464 Q515 470 518 540 Q515 600 450 608 Q390 602 385 540 Z" /><path filter="url(#spk)" fill="#fff" opacity="0.24" d="M385 540 Q390 468 450 464 Q515 470 518 540 Q515 600 450 608 Q390 602 385 540 Z" /><path filter="url(#spk2)" fill="#8a8a8a" opacity="0.2" d="M385 540 Q390 468 450 464 Q515 470 518 540 Q515 600 450 608 Q390 602 385 540 Z" /><path filter="url(#b7)" fill="#383838" d="M300 600 Q340 585 400 600 L480 615 L480 634 L200 634 L200 615 Z" /><ellipse filter="url(#b4)" cx="290" cy="471" rx="16" ry="17" fill="#f2f2f2"/><ellipse filter="url(#b4)" cx="329" cy="458" rx="17" ry="17" fill="#d8d8d8"/><ellipse filter="url(#b4)" cx="361" cy="503" rx="21" ry="38" fill="#cfcfcf" transform="rotate(-25 361 503)"/><g filter="url(#b2)" fill="#ddd"><ellipse cx="300" cy="440" rx="8" ry="8"/><ellipse cx="408" cy="520" rx="6" ry="6"/><ellipse cx="128" cy="435" rx="7" ry="7"/></g><path filter="url(#b2)" fill="none" stroke="#8a8a8a" stroke-width="5" stroke-linecap="round" d="M262 627 H400"/><ellipse filter="url(#b2)" cx="219" cy="361" rx="42" ry="39" fill="#e4e4e4"/><ellipse filter="url(#b2)" cx="220" cy="360" rx="32" ry="29" fill="#6c6c6c"/><rect filter="url(#b4)" x="-20" y="637" width="740" height="60" fill="#040404"/><g stroke="#8a8a8a" stroke-width="2.6" fill="none" filter="url(#b2)"><line x1="628" y1="175" x2="628" y2="480"/><line x1="586" y1="175.0" x2="628" y2="175.0" stroke-width="3.2"/><line x1="611" y1="190.2" x2="628" y2="190.2" stroke-width="2.4"/><line x1="611" y1="205.5" x2="628" y2="205.5" stroke-width="2.4"/><line x1="611" y1="220.8" x2="628" y2="220.8" stroke-width="2.4"/><line x1="611" y1="236.0" x2="628" y2="236.0" stroke-width="2.4"/><line x1="602" y1="251.2" x2="628" y2="251.2" stroke-width="2.4"/><line x1="611" y1="266.5" x2="628" y2="266.5" stroke-width="2.4"/><line x1="611" y1="281.8" x2="628" y2="281.8" stroke-width="2.4"/><line x1="611" y1="297.0" x2="628" y2="297.0" stroke-width="2.4"/><line x1="611" y1="312.2" x2="628" y2="312.2" stroke-width="2.4"/><line x1="586" y1="327.5" x2="628" y2="327.5" stroke-width="3.2"/><line x1="611" y1="342.8" x2="628" y2="342.8" stroke-width="2.4"/><line x1="611" y1="358.0" x2="628" y2="358.0" stroke-width="2.4"/><line x1="611" y1="373.2" x2="628" y2="373.2" stroke-width="2.4"/><line x1="611" y1="388.5" x2="628" y2="388.5" stroke-width="2.4"/><line x1="602" y1="403.8" x2="628" y2="403.8" stroke-width="2.4"/><line x1="611" y1="419.0" x2="628" y2="419.0" stroke-width="2.4"/><line x1="611" y1="434.2" x2="628" y2="434.2" stroke-width="2.4"/><line x1="611" y1="449.5" x2="628" y2="449.5" stroke-width="2.4"/><line x1="611" y1="464.8" x2="628" y2="464.8" stroke-width="2.4"/><line x1="586" y1="480.0" x2="628" y2="480.0" stroke-width="3.2"/></g><rect x="325" y="648" width="16" height="14" fill="none" stroke="#999" stroke-width="3" filter="url(#b2)"/></g></g></g>
<g id="mri6"><clipPath id="clip6"><rect x="915.90" y="385.00" width="144.80" height="139.80"/></clipPath><rect x="915.90" y="385.00" width="144.80" height="139.80" fill="#040404"/><g clip-path="url(#clip6)"><g transform="translate(912,382) scale(0.215517)"><path filter="url(#b4)" fill="#262626" d="M29 490 L129 368 L206 322 Q245 308 280 340 L290 356 L425 358 Q450 340 477 336 Q520 340 554 361 L619 426 L670 490 Q672 560 619 600 Q500 648 348 648 Q190 648 77 600 Q25 560 29 490 Z" /><path filter="url(#b2)" fill="none" stroke="#5a5a5a" stroke-width="5" stroke-linecap="round" d="M29 490 L129 368 L206 322"/><path filter="url(#b2)" fill="none" stroke="#555" stroke-width="5" stroke-linecap="round" d="M425 358 Q450 340 477 336 Q520 340 554 361 L619 426 L670 490 Q672 560 619 600"/><path filter="url(#b2)" fill="none" stroke="#444" stroke-width="5" stroke-linecap="round" d="M29 490 Q25 560 77 600 Q190 648 348 648 Q500 648 619 600"/><path filter="url(#spk2)" fill="#777" opacity="0.18" d="M18 360 H690 V460 H18 Z" /><path filter="url(#b4)" fill="#585858" d="M168 385 L290 372 L430 374 L567 392 L575 415 L168 415 Z" /><path filter="url(#spk3)" fill="#a0a0a0" opacity="0.35" d="M168 385 L567 385 L575 415 L168 415 Z" /><g filter="url(#b4)" fill="#c4c4c4"><ellipse cx="503" cy="398" rx="28" ry="13"/><ellipse cx="470" cy="388" rx="18" ry="9"/></g><g filter="url(#b4)" fill="#9a9a9a"><ellipse cx="200" cy="405" rx="30" ry="10"/></g><path filter="url(#b4)" fill="none" stroke="#a6a6a6" stroke-width="44" stroke-linecap="round" d="M85 470 Q95 530 150 575"/><path filter="url(#b4)" fill="none" stroke="#a2a2a2" stroke-width="36" stroke-linecap="round" d="M608 455 Q612 520 568 575"/><path filter="url(#b7)" fill="none" stroke="#4e4e4e" stroke-width="30" stroke-linecap="round" d="M150 575 Q240 625 340 628"/><path filter="url(#b7)" fill="none" stroke="#4a4a4a" stroke-width="30" stroke-linecap="round" d="M568 575 Q470 625 360 628"/><path filter="url(#b4)" fill="none" stroke="#555" stroke-width="5" stroke-linecap="round" d="M75 500 L120 505 M95 545 L140 540"/><ellipse filter="url(#b4)" cx="150" cy="428" rx="22" ry="30" fill="#161616"/><ellipse filter="url(#b4)" cx="570" cy="428" rx="20" ry="30" fill="#161616"/><g filter="url(#b2)" fill="#e0e0e0"><ellipse cx="135" cy="420" rx="6" ry="6"/><ellipse cx="160" cy="440" rx="6" ry="6"/><ellipse cx="120" cy="470" rx="5" ry="5"/><ellipse cx="565" cy="430" rx="5" ry="5"/><ellipse cx="585" cy="455" rx="5" ry="5"/></g><path filter="url(#b4)" fill="#0b0b0b" d="M161 500 Q165 418 245 412 Q318 418 329 490 Q330 570 250 582 Q165 575 161 500 Z" /><path filter="url(#spk)" fill="#fff" opacity="0.24" d="M161 500 Q165 418 245 412 Q318 418 329 490 Q330 570 250 582 Q165 575 161 500 Z" /><path filter="url(#spk2)" fill="#8a8a8a" opacity="0.2" d="M161 500 Q165 418 245 412 Q318 418 329 490 Q330 570 250 582 Q165 575 161 500 Z" /><path filter="url(#b4)" fill="#0b0b0b" d="M400 505 Q405 425 470 418 Q545 425 548 505 Q545 585 470 594 Q405 585 400 505 Z" /><path filter="url(#spk)" fill="#fff" opacity="0.24" d="M400 505 Q405 425 470 418 Q545 425 548 505 Q545 585 470 594 Q405 585 400 505 Z" /><path filter="url(#spk2)" fill="#8a8a8a" opacity="0.2" d="M400 505 Q405 425 470 418 Q545 425 548 505 Q545 585 470 594 Q405 585 400 505 Z" /><path filter="url(#b7)" fill="#454545" d="M329 480 L390 480 L395 585 L325 585 Z" /><path filter="url(#b4)" fill="none" stroke="#f4f4f4" stroke-width="30" stroke-linecap="round" d="M300 436 Q350 408 378 450 L392 492"/><ellipse filter="url(#b2)" cx="430" cy="482" rx="6" ry="6" fill="#ddd"/><ellipse filter="url(#b2)" cx="242" cy="345" rx="34" ry="32" fill="#e4e4e4"/><g filter="url(#b2)" fill="#777"><ellipse cx="233" cy="348" rx="11" ry="12"/><ellipse cx="257" cy="343" rx="9" ry="10"/></g><g stroke="#8a8a8a" stroke-width="2.6" fill="none" filter="url(#b2)"><line x1="665" y1="165" x2="665" y2="470"/><line x1="623" y1="165.0" x2="665" y2="165.0" stroke-width="3.2"/><line x1="648" y1="180.2" x2="665" y2="180.2" stroke-width="2.4"/><line x1="648" y1="195.5" x2="665" y2="195.5" stroke-width="2.4"/><line x1="648" y1="210.8" x2="665" y2="210.8" stroke-width="2.4"/><line x1="648" y1="226.0" x2="665" y2="226.0" stroke-width="2.4"/><line x1="639" y1="241.2" x2="665" y2="241.2" stroke-width="2.4"/><line x1="648" y1="256.5" x2="665" y2="256.5" stroke-width="2.4"/><line x1="648" y1="271.8" x2="665" y2="271.8" stroke-width="2.4"/><line x1="648" y1="287.0" x2="665" y2="287.0" stroke-width="2.4"/><line x1="648" y1="302.2" x2="665" y2="302.2" stroke-width="2.4"/><line x1="623" y1="317.5" x2="665" y2="317.5" stroke-width="3.2"/><line x1="648" y1="332.8" x2="665" y2="332.8" stroke-width="2.4"/><line x1="648" y1="348.0" x2="665" y2="348.0" stroke-width="2.4"/><line x1="648" y1="363.2" x2="665" y2="363.2" stroke-width="2.4"/><line x1="648" y1="378.5" x2="665" y2="378.5" stroke-width="2.4"/><line x1="639" y1="393.8" x2="665" y2="393.8" stroke-width="2.4"/><line x1="648" y1="409.0" x2="665" y2="409.0" stroke-width="2.4"/><line x1="648" y1="424.2" x2="665" y2="424.2" stroke-width="2.4"/><line x1="648" y1="439.5" x2="665" y2="439.5" stroke-width="2.4"/><line x1="648" y1="454.8" x2="665" y2="454.8" stroke-width="2.4"/><line x1="623" y1="470.0" x2="665" y2="470.0" stroke-width="3.2"/></g><rect x="339" y="648" width="16" height="14" fill="none" stroke="#999" stroke-width="3" filter="url(#b2)"/></g></g></g>
<g id="mri7"><clipPath id="clip7"><rect x="773.50" y="527.90" width="135.70" height="132.60"/></clipPath><rect x="773.50" y="527.90" width="135.70" height="132.60" fill="#040404"/><g clip-path="url(#clip7)"><g transform="translate(770,524) scale(0.215517)"><path filter="url(#b4)" fill="#323232" d="M0 450 L40 400 L55 300 Q62 200 120 165 Q170 145 222 170 Q262 215 275 290 Q282 316 305 318 L355 318 Q378 312 382 280 Q392 200 432 165 Q490 140 546 170 Q588 215 592 300 L602 385 L646 470 L650 660 L0 660 Z" /><path filter="url(#b2)" fill="none" stroke="#585858" stroke-width="5" stroke-linecap="round" d="M40 400 L55 300 Q62 200 120 165 Q170 145 222 170 Q262 215 275 290"/><path filter="url(#b2)" fill="none" stroke="#585858" stroke-width="5" stroke-linecap="round" d="M382 280 Q392 200 432 165 Q490 140 546 170 Q588 215 592 300 L602 385"/><path filter="url(#b7)" fill="#151515" d="M560 400 L600 390 L646 470 L650 650 L520 650 Q590 520 560 400 Z" /><path filter="url(#spk3)" fill="#6a6a6a" opacity="0.225" d="M560 400 L600 390 L646 470 L650 650 L520 650 Q590 520 560 400 Z" /><path filter="url(#b7)" fill="#8e8e8e" d="M30 440 Q60 400 110 390 Q70 500 95 620 L40 630 Q20 520 30 440 Z" /><path filter="url(#b4)" fill="none" stroke="#333" stroke-width="7" stroke-linecap="round" d="M70 430 Q45 520 70 620"/><path filter="url(#b2)" fill="none" stroke="#909090" stroke-width="14" stroke-linecap="round" d="M150 345 Q300 318 490 350"/><path filter="url(#b4)" fill="#0b0b0b" d="M125 480 Q135 400 230 368 Q340 352 470 370 Q555 400 560 480 Q560 570 490 612 Q340 630 200 612 Q120 570 125 480 Z" /><path filter="url(#spk)" fill="#fff" opacity="0.15" d="M125 480 Q135 400 230 368 Q340 352 470 370 Q555 400 560 480 Q560 570 490 612 Q340 630 200 612 Q120 570 125 480 Z" /><path filter="url(#spk2)" fill="#8a8a8a" opacity="0.2" d="M125 480 Q135 400 230 368 Q340 352 470 370 Q555 400 560 480 Q560 570 490 612 Q340 630 200 612 Q120 570 125 480 Z" /><path filter="url(#b7)" fill="#dedede" d="M248 420 Q262 368 360 365 Q480 362 500 410 Q505 465 430 498 Q340 515 280 480 Q245 455 248 420 Z" /><path filter="url(#dark)" fill="#000" opacity="0.55" d="M245 360 H505 V510 H245 Z" /><ellipse filter="url(#b4)" cx="355" cy="545" rx="20" ry="18" fill="#b0b0b0"/><path filter="url(#b2)" fill="none" stroke="#bbb" stroke-width="7" stroke-linecap="round" d="M270 597 H410"/><clipPath id="sil7"><path d="M0 450 L40 400 L55 300 Q62 200 120 165 Q170 145 222 170 Q262 215 275 290 Q282 316 305 318 L355 318 Q378 312 382 280 Q392 200 432 165 Q490 140 546 170 Q588 215 592 300 L602 385 L646 470 L650 660 L0 660 Z"/></clipPath><g clip-path="url(#sil7)"><g filter="url(#b2)" stroke="#d0d0d0" stroke-linecap="round" fill="none" opacity="0.8"><path d="M184 222 Q205 240 216 243" stroke-width="3.4"/><path d="M98 206 Q100 209 95 216" stroke-width="5.9"/><path d="M140 279 Q136 290 147 297" stroke-width="3.1"/><path d="M221 199 Q242 215 247 225" stroke-width="3.4"/><path d="M128 199 Q116 200 110 215" stroke-width="3.8"/><path d="M95 231 Q92 240 91 249" stroke-width="4.8"/><path d="M131 290 Q131 300 139 307" stroke-width="4.4"/><path d="M100 222 Q91 232 77 236" stroke-width="6.1"/><path d="M125 185 Q117 197 109 209" stroke-width="3.6"/><path d="M223 212 Q220 218 219 235" stroke-width="5.0"/><path d="M184 208 Q196 214 197 227" stroke-width="4.7"/><path d="M163 221 Q163 230 149 241" stroke-width="4.3"/><path d="M165 264 Q155 271 160 281" stroke-width="2.5"/><path d="M180 212 Q181 231 176 248" stroke-width="3.8"/><path d="M130 242 Q136 251 138 266" stroke-width="5.6"/><path d="M134 249 Q126 250 126 256" stroke-width="5.3"/><path d="M240 213 Q251 219 262 217" stroke-width="3.4"/><path d="M201 201 Q207 213 201 227" stroke-width="4.3"/><path d="M104 245 Q92 254 94 251" stroke-width="4.3"/><path d="M221 199 Q224 198 242 208" stroke-width="4.4"/><path d="M104 271 Q97 288 84 290" stroke-width="4.4"/><path d="M111 181 Q101 184 98 183" stroke-width="5.6"/><path d="M175 278 Q173 290 187 311" stroke-width="6.7"/><path d="M216 205 Q224 216 228 230" stroke-width="6.0"/><path d="M137 188 Q127 201 113 207" stroke-width="3.6"/><path d="M176 258 Q170 263 170 273" stroke-width="3.2"/><path d="M164 274 Q175 293 186 302" stroke-width="5.6"/><path d="M136 232 Q134 256 123 266" stroke-width="4.8"/><path d="M132 251 Q132 268 124 275" stroke-width="6.3"/><path d="M188 213 Q197 210 203 223" stroke-width="6.1"/><path d="M122 250 Q112 272 116 280" stroke-width="5.2"/><path d="M115 249 Q103 261 105 262" stroke-width="3.8"/><path d="M162 280 Q166 295 160 301" stroke-width="4.0"/><path d="M128 252 Q120 260 110 266" stroke-width="2.7"/><path d="M210 223 Q207 237 215 239" stroke-width="5.9"/><path d="M112 295 Q107 302 104 314" stroke-width="5.1"/><path d="M95 254 Q102 267 98 269" stroke-width="5.3"/><path d="M170 228 Q176 242 168 242" stroke-width="2.4"/><path d="M130 213 Q122 222 101 233" stroke-width="4.7"/><path d="M94 206 Q90 220 73 220" stroke-width="4.7"/><path d="M174 187 Q171 198 162 208" stroke-width="4.3"/><path d="M121 235 Q120 243 111 266" stroke-width="3.2"/><path d="M110 190 Q106 207 111 220" stroke-width="6.0"/><path d="M128 200 Q137 213 130 214" stroke-width="6.6"/><path d="M154 204 Q155 216 151 216" stroke-width="6.4"/><path d="M133 292 Q127 291 123 304" stroke-width="2.7"/><path d="M145 191 Q132 197 129 210" stroke-width="3.9"/><path d="M117 195 Q105 192 86 202" stroke-width="4.5"/><path d="M218 282 Q227 284 232 297" stroke-width="5.0"/><path d="M208 190 Q220 197 225 200" stroke-width="6.7"/><path d="M126 266 Q135 276 136 296" stroke-width="5.9"/><path d="M113 229 Q119 241 115 251" stroke-width="3.6"/><path d="M86 263 Q74 265 63 281" stroke-width="4.1"/><path d="M236 297 Q243 302 235 314" stroke-width="6.2"/><path d="M220 299 Q222 302 239 314" stroke-width="6.0"/><path d="M186 199 Q206 220 212 225" stroke-width="4.9"/><path d="M108 309 Q107 320 103 314" stroke-width="5.5"/><path d="M231 283 Q233 290 227 309" stroke-width="3.4"/><path d="M202 274 Q204 289 211 295" stroke-width="4.3"/><path d="M121 223 Q110 232 108 255" stroke-width="3.9"/></g><g filter="url(#b2)" stroke="#c8c8c8" stroke-linecap="round" fill="none" opacity="0.8"><path d="M500 188 Q495 194 489 205" stroke-width="5.6"/><path d="M503 268 Q492 278 485 292" stroke-width="5.1"/><path d="M441 269 Q438 270 425 285" stroke-width="3.7"/><path d="M477 181 Q474 196 481 200" stroke-width="5.1"/><path d="M487 224 Q502 241 504 256" stroke-width="2.9"/><path d="M441 303 Q443 314 450 314" stroke-width="2.9"/><path d="M479 187 Q487 204 495 210" stroke-width="6.5"/><path d="M531 209 Q533 225 549 241" stroke-width="6.7"/><path d="M461 186 Q468 191 459 206" stroke-width="6.0"/><path d="M546 214 Q559 208 557 219" stroke-width="5.1"/><path d="M499 205 Q508 222 511 230" stroke-width="2.8"/><path d="M444 287 Q442 301 431 314" stroke-width="4.5"/><path d="M542 199 Q558 216 558 226" stroke-width="3.6"/><path d="M433 241 Q435 253 430 275" stroke-width="4.6"/><path d="M539 232 Q531 237 537 252" stroke-width="4.8"/><path d="M412 226 Q397 226 388 240" stroke-width="3.8"/><path d="M415 255 Q409 263 417 266" stroke-width="5.5"/><path d="M457 262 Q462 268 457 272" stroke-width="3.1"/><path d="M456 194 Q445 212 448 222" stroke-width="3.3"/><path d="M505 199 Q522 215 532 225" stroke-width="4.7"/><path d="M545 294 Q549 308 548 307" stroke-width="3.3"/><path d="M423 270 Q414 279 403 285" stroke-width="4.6"/><path d="M506 265 Q508 285 522 296" stroke-width="4.2"/><path d="M456 192 Q455 205 450 204" stroke-width="5.5"/><path d="M502 251 Q508 267 507 282" stroke-width="5.6"/><path d="M417 263 Q415 277 419 284" stroke-width="4.4"/><path d="M522 268 Q513 287 511 290" stroke-width="3.7"/><path d="M445 277 Q450 298 441 304" stroke-width="6.6"/><path d="M527 245 Q530 255 525 269" stroke-width="4.3"/><path d="M429 220 Q417 227 405 228" stroke-width="3.5"/><path d="M505 192 Q509 196 514 204" stroke-width="6.4"/><path d="M558 243 Q561 251 561 271" stroke-width="6.2"/><path d="M533 198 Q535 220 526 232" stroke-width="4.4"/><path d="M521 280 Q523 296 521 304" stroke-width="2.8"/><path d="M556 263 Q579 270 590 279" stroke-width="4.9"/><path d="M445 233 Q436 251 441 270" stroke-width="3.5"/><path d="M559 262 Q569 268 564 277" stroke-width="6.1"/><path d="M456 295 Q468 300 468 314" stroke-width="6.2"/><path d="M438 285 Q439 293 446 310" stroke-width="2.3"/><path d="M411 218 Q411 228 411 234" stroke-width="3.9"/><path d="M492 206 Q491 218 490 227" stroke-width="6.6"/><path d="M536 191 Q540 208 540 213" stroke-width="5.8"/><path d="M419 280 Q427 283 419 295" stroke-width="4.1"/><path d="M543 272 Q552 291 566 299" stroke-width="2.9"/><path d="M411 299 Q405 310 393 310" stroke-width="6.5"/><path d="M537 296 Q551 300 567 314" stroke-width="3.5"/><path d="M569 277 Q575 294 580 310" stroke-width="2.5"/><path d="M560 276 Q573 273 585 286" stroke-width="6.6"/><path d="M421 270 Q416 267 408 275" stroke-width="3.4"/><path d="M540 303 Q557 315 569 314" stroke-width="2.5"/><path d="M410 242 Q412 246 398 254" stroke-width="6.7"/><path d="M538 306 Q557 314 566 314" stroke-width="6.6"/><path d="M483 254 Q477 257 472 271" stroke-width="6.2"/><path d="M464 185 Q454 203 452 211" stroke-width="5.7"/><path d="M487 205 Q481 215 478 226" stroke-width="3.0"/><path d="M490 269 Q488 284 483 289" stroke-width="2.3"/><path d="M519 190 Q523 201 529 200" stroke-width="2.5"/><path d="M512 304 Q511 306 516 314" stroke-width="6.2"/><path d="M548 258 Q552 260 554 273" stroke-width="5.0"/><path d="M409 223 Q406 220 399 227" stroke-width="6.4"/></g></g><g filter="url(#b4)" fill="#a8a8a8"><ellipse cx="538" cy="250" rx="22" ry="36"/><ellipse cx="132" cy="250" rx="16" ry="60"/></g><ellipse filter="url(#b2)" cx="120" cy="298" rx="11" ry="11" fill="#eee"/><ellipse filter="url(#b2)" cx="120" cy="298" rx="5" ry="5" fill="#555"/><rect filter="url(#b4)" x="-20" y="621" width="740" height="60" fill="#040404"/><g stroke="#8a8a8a" stroke-width="2.6" fill="none" filter="url(#b2)"><line x1="632" y1="212" x2="632" y2="505"/><line x1="590" y1="212.0" x2="632" y2="212.0" stroke-width="3.2"/><line x1="615" y1="226.7" x2="632" y2="226.7" stroke-width="2.4"/><line x1="615" y1="241.3" x2="632" y2="241.3" stroke-width="2.4"/><line x1="615" y1="255.9" x2="632" y2="255.9" stroke-width="2.4"/><line x1="615" y1="270.6" x2="632" y2="270.6" stroke-width="2.4"/><line x1="606" y1="285.2" x2="632" y2="285.2" stroke-width="2.4"/><line x1="615" y1="299.9" x2="632" y2="299.9" stroke-width="2.4"/><line x1="615" y1="314.6" x2="632" y2="314.6" stroke-width="2.4"/><line x1="615" y1="329.2" x2="632" y2="329.2" stroke-width="2.4"/><line x1="615" y1="343.9" x2="632" y2="343.9" stroke-width="2.4"/><line x1="590" y1="358.5" x2="632" y2="358.5" stroke-width="3.2"/><line x1="615" y1="373.1" x2="632" y2="373.1" stroke-width="2.4"/><line x1="615" y1="387.8" x2="632" y2="387.8" stroke-width="2.4"/><line x1="615" y1="402.4" x2="632" y2="402.4" stroke-width="2.4"/><line x1="615" y1="417.1" x2="632" y2="417.1" stroke-width="2.4"/><line x1="606" y1="431.8" x2="632" y2="431.8" stroke-width="2.4"/><line x1="615" y1="446.4" x2="632" y2="446.4" stroke-width="2.4"/><line x1="615" y1="461.1" x2="632" y2="461.1" stroke-width="2.4"/><line x1="615" y1="475.7" x2="632" y2="475.7" stroke-width="2.4"/><line x1="615" y1="490.4" x2="632" y2="490.4" stroke-width="2.4"/><line x1="590" y1="505.0" x2="632" y2="505.0" stroke-width="3.2"/></g><text x="592" y="522" font-size="13" fill="#a8a8a8" font-weight="bold" filter="url(#b2)">10cm</text><rect x="317" y="619" width="16" height="14" fill="none" stroke="#999" stroke-width="3" filter="url(#b2)"/></g></g></g>
<g id="mri8"><clipPath id="clip8"><rect x="915.90" y="527.90" width="144.80" height="132.60"/></clipPath><rect x="915.90" y="527.90" width="144.80" height="132.60" fill="#040404"/><g clip-path="url(#clip8)"><g transform="translate(912,524) scale(0.215517)"><path filter="url(#b4)" fill="#2c2c2c" d="M0 460 L40 400 L80 310 L88 225 Q110 130 167 125 Q225 140 246 205 L264 288 Q272 320 300 322 L360 322 Q382 316 386 270 L404 195 Q430 135 482 134 Q535 155 547 225 L560 300 L592 362 L642 440 L690 540 L690 660 L0 660 Z" /><path filter="url(#b2)" fill="none" stroke="#484848" stroke-width="5" stroke-linecap="round" d="M40 400 L80 310 L88 225 Q110 130 167 125 Q225 140 246 205 L264 288"/><path filter="url(#b2)" fill="none" stroke="#484848" stroke-width="5" stroke-linecap="round" d="M386 270 L404 195 Q430 135 482 134 Q535 155 547 225 L560 300 L592 362 L642 440"/><path filter="url(#b7)" fill="#1a1a1a" d="M18 480 L60 420 L110 400 Q80 520 110 640 L18 640 Z" /><path filter="url(#spk3)" fill="#6a6a6a" opacity="0.248" d="M18 480 L60 420 L110 400 Q80 520 110 640 L18 640 Z" /><path filter="url(#b7)" fill="#1a1a1a" d="M575 420 L640 450 L690 560 L690 640 L590 640 Q610 520 575 420 Z" /><path filter="url(#spk3)" fill="#6a6a6a" opacity="0.248" d="M575 420 L640 450 L690 560 L690 640 L590 640 Q610 520 575 420 Z" /><path filter="url(#b4)" fill="none" stroke="#5a5a5a" stroke-width="10" stroke-linecap="round" d="M70 440 Q45 530 75 620"/><path filter="url(#b4)" fill="none" stroke="#505050" stroke-width="10" stroke-linecap="round" d="M615 450 Q640 530 625 620"/><path filter="url(#b2)" fill="none" stroke="#6a6a6a" stroke-width="9" stroke-linecap="round" d="M165 352 Q300 325 520 360"/><path filter="url(#b4)" fill="#0b0b0b" d="M120 490 Q130 410 225 375 Q340 358 470 375 Q560 410 568 490 Q565 575 495 615 Q340 632 195 615 Q115 575 120 490 Z" /><path filter="url(#spk)" fill="#fff" opacity="0.15" d="M120 490 Q130 410 225 375 Q340 358 470 375 Q560 410 568 490 Q565 575 495 615 Q340 632 195 615 Q115 575 120 490 Z" /><path filter="url(#spk2)" fill="#8a8a8a" opacity="0.2" d="M120 490 Q130 410 225 375 Q340 358 470 375 Q560 410 568 490 Q565 575 495 615 Q340 632 195 615 Q115 575 120 490 Z" /><path filter="url(#b7)" fill="#dcdcdc" d="M240 425 Q255 372 350 368 Q475 365 495 420 Q498 480 430 515 Q345 535 285 500 Q238 470 240 425 Z" /><path filter="url(#dark)" fill="#000" opacity="0.55" d="M238 362 H500 V535 H238 Z" /><ellipse filter="url(#b4)" cx="352" cy="565" rx="20" ry="20" fill="#b5b5b5"/><path filter="url(#b2)" fill="none" stroke="#aaa" stroke-width="7" stroke-linecap="round" d="M300 605 H400"/><clipPath id="sil8"><path d="M0 460 L40 400 L80 310 L88 225 Q110 130 167 125 Q225 140 246 205 L264 288 Q272 320 300 322 L360 322 Q382 316 386 270 L404 195 Q430 135 482 134 Q535 155 547 225 L560 300 L592 362 L642 440 L690 540 L690 660 L0 660 Z"/></clipPath><g clip-path="url(#sil8)"><g filter="url(#b2)" stroke="#8a8a8a" stroke-linecap="round" fill="none" opacity="0.8"><path d="M159 236 Q163 241 156 257" stroke-width="3.8"/><path d="M178 275 Q171 279 168 290" stroke-width="2.5"/><path d="M166 171 Q178 192 175 196" stroke-width="5.1"/><path d="M151 210 Q150 212 140 222" stroke-width="3.8"/><path d="M222 244 Q219 258 222 277" stroke-width="5.5"/><path d="M192 248 Q195 249 201 256" stroke-width="3.1"/><path d="M217 283 Q216 282 225 292" stroke-width="4.9"/><path d="M223 217 Q229 227 247 225" stroke-width="3.5"/><path d="M175 196 Q168 207 170 205" stroke-width="3.7"/><path d="M210 175 Q203 178 207 196" stroke-width="5.0"/><path d="M194 276 Q189 287 192 296" stroke-width="5.2"/><path d="M167 231 Q177 243 173 263" stroke-width="5.8"/><path d="M153 282 Q159 297 163 310" stroke-width="6.0"/><path d="M190 307 Q184 317 191 316" stroke-width="3.0"/></g><g filter="url(#b2)" stroke="#707070" stroke-linecap="round" fill="none" opacity="0.8"><path d="M479 188 Q483 211 478 225" stroke-width="4.7"/><path d="M525 190 Q527 197 541 211" stroke-width="5.4"/><path d="M436 185 Q433 195 430 204" stroke-width="2.7"/><path d="M467 168 Q469 184 469 193" stroke-width="3.8"/><path d="M498 223 Q484 232 484 248" stroke-width="5.9"/><path d="M455 305 Q451 303 459 315" stroke-width="5.9"/><path d="M460 303 Q473 316 482 316" stroke-width="3.2"/><path d="M517 291 Q520 303 516 316" stroke-width="5.8"/><path d="M470 182 Q477 187 472 205" stroke-width="3.7"/><path d="M465 231 Q462 246 456 260" stroke-width="3.5"/><path d="M519 309 Q517 316 518 316" stroke-width="2.8"/><path d="M472 229 Q486 240 488 258" stroke-width="2.6"/></g></g><path filter="url(#b2)" fill="none" stroke="#a0a0a0" stroke-width="10" stroke-linecap="round" d="M135 215 Q125 260 140 312"/><path filter="url(#b2)" fill="none" stroke="#808080" stroke-width="9" stroke-linecap="round" d="M498 225 L510 275"/><g filter="url(#b2)" fill="#eee"><ellipse cx="122" cy="355" rx="5" ry="5"/><ellipse cx="533" cy="370" rx="5" ry="5"/></g><rect filter="url(#b4)" x="-20" y="619" width="740" height="60" fill="#040404"/><g stroke="#8a8a8a" stroke-width="2.6" fill="none" filter="url(#b2)"><line x1="675" y1="215" x2="675" y2="510"/><line x1="633" y1="215.0" x2="675" y2="215.0" stroke-width="3.2"/><line x1="658" y1="229.8" x2="675" y2="229.8" stroke-width="2.4"/><line x1="658" y1="244.5" x2="675" y2="244.5" stroke-width="2.4"/><line x1="658" y1="259.2" x2="675" y2="259.2" stroke-width="2.4"/><line x1="658" y1="274.0" x2="675" y2="274.0" stroke-width="2.4"/><line x1="649" y1="288.8" x2="675" y2="288.8" stroke-width="2.4"/><line x1="658" y1="303.5" x2="675" y2="303.5" stroke-width="2.4"/><line x1="658" y1="318.2" x2="675" y2="318.2" stroke-width="2.4"/><line x1="658" y1="333.0" x2="675" y2="333.0" stroke-width="2.4"/><line x1="658" y1="347.8" x2="675" y2="347.8" stroke-width="2.4"/><line x1="633" y1="362.5" x2="675" y2="362.5" stroke-width="3.2"/><line x1="658" y1="377.2" x2="675" y2="377.2" stroke-width="2.4"/><line x1="658" y1="392.0" x2="675" y2="392.0" stroke-width="2.4"/><line x1="658" y1="406.8" x2="675" y2="406.8" stroke-width="2.4"/><line x1="658" y1="421.5" x2="675" y2="421.5" stroke-width="2.4"/><line x1="649" y1="436.2" x2="675" y2="436.2" stroke-width="2.4"/><line x1="658" y1="451.0" x2="675" y2="451.0" stroke-width="2.4"/><line x1="658" y1="465.8" x2="675" y2="465.8" stroke-width="2.4"/><line x1="658" y1="480.5" x2="675" y2="480.5" stroke-width="2.4"/><line x1="658" y1="495.2" x2="675" y2="495.2" stroke-width="2.4"/><line x1="633" y1="510.0" x2="675" y2="510.0" stroke-width="3.2"/></g><text x="635" y="530" font-size="13" fill="#a8a8a8" font-weight="bold" filter="url(#b2)">10cm</text><rect x="317" y="615" width="16" height="14" fill="none" stroke="#999" stroke-width="3" filter="url(#b2)"/></g></g></g>
</g>
</svg>
</body></html>
